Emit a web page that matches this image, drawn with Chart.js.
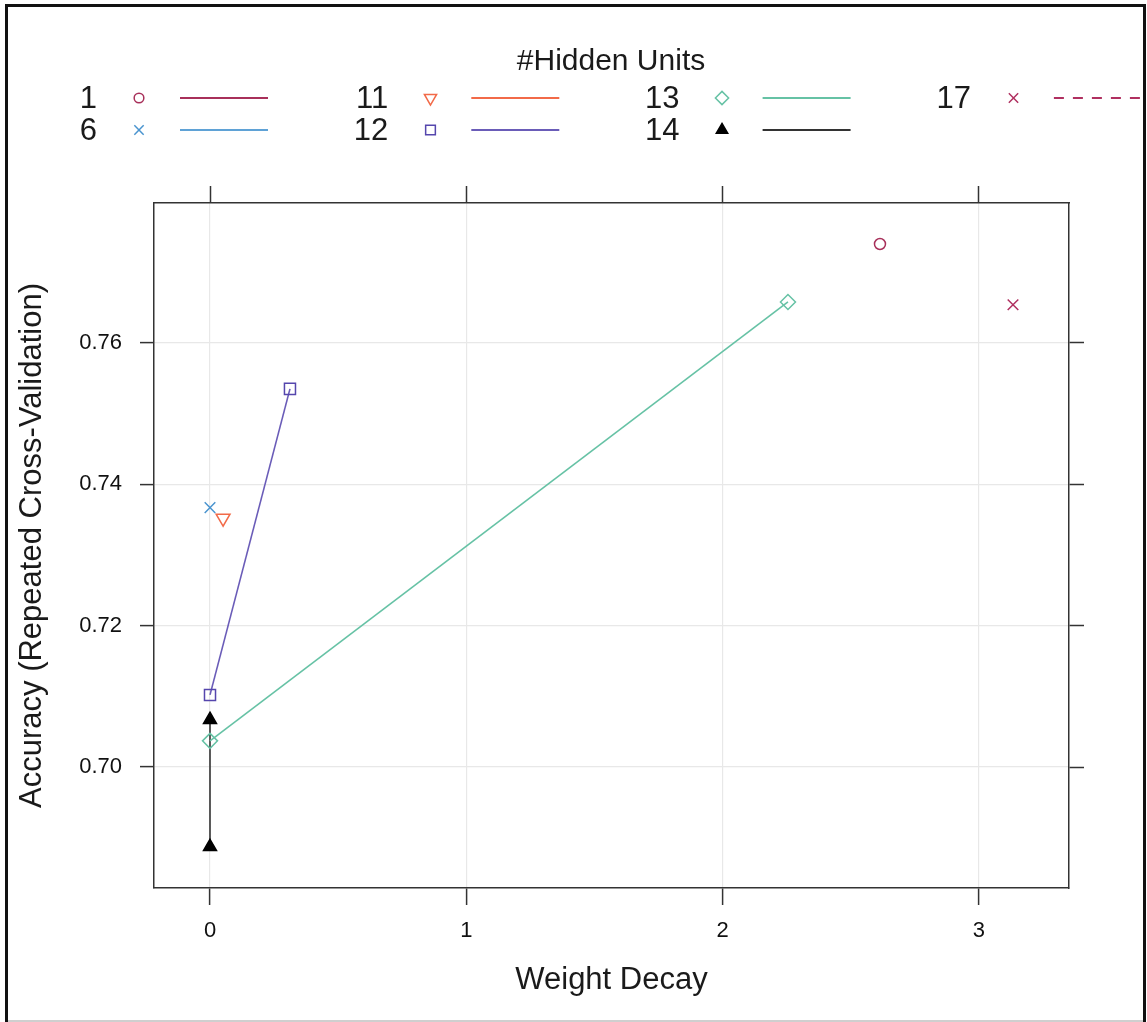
<!DOCTYPE html>
<html>
<head>
<meta charset="utf-8">
<script src="https://cdn.jsdelivr.net/npm/chart.js@4.4.1/dist/chart.umd.min.js"></script>
<style>
  html, body { margin: 0; padding: 0; background: #fff; }
  #wrap { width: 1147px; height: 1022px; }
</style>
</head>
<body>
<div id="wrap"><canvas id="nnetChart" width="1147" height="1022"></canvas></div>
<script>
// values
const hiddenUnits = ["1", "6", "11", "12", "13", "14", "17"];

const decay1 = [2.614];       const acc1 = [0.7740];
const decay6 = [0];           const acc6 = [0.7367];
const decay11 = [0.051];      const acc11 = [0.7352];
const decay12 = [0, 0.312];   const acc12 = [0.7102, 0.7535];
const decay13 = [0, 2.255];   const acc13 = [0.7037, 0.7658];
const decay14 = [0, 0];       const acc14 = [0.7067, 0.6887];
const decay17 = [3.133];      const acc17 = [0.7654];

const xTicks = [0, 1, 2, 3];
const yTicks = [0.70, 0.72, 0.74, 0.76];

const xRange = [-0.2185, 3.3515];
const yRange = [0.68288, 0.7798];

const FONT = "'Liberation Sans', Arial, Helvetica, sans-serif";

function pts(xs, ys) {
  return xs.map((x, i) => ({ x: x, y: ys[i] }));
}

// style per series (same order as hiddenUnits)
const markerColors = ["#a8305a", "#4a94cf", "#f26a48", "#5546ad", "#66c2a5", "#000000", "#b03060"];
const lineColors   = ["#a8305a", "#5fa2d6", "#f26a48", "#6a5cb8", "#66c2a5", "#333333", "#b03060"];
const markerStyles = ["circle", "crossRot", "triangle", "rect", "rectRot", "triangle", "crossRot"];
const markerRot    = [0, 0, 180, 0, 0, 0, 0];
const markerSize   = [5.5, 7.5, 8, 7.8, 7.5, 7.5, 7.5];
const markerFilled = [false, false, false, false, false, true, false];
const lineDash     = [[], [], [], [], [], [], [10, 9]];

const seriesData = [
  pts(decay1, acc1), pts(decay6, acc6), pts(decay11, acc11), pts(decay12, acc12),
  pts(decay13, acc13), pts(decay14, acc14), pts(decay17, acc17)
];

const datasets = hiddenUnits.map((u, i) => ({
  label: u,
  data: seriesData[i],
  showLine: true,
  borderColor: lineColors[i],
  borderWidth: 1.6,
  borderDash: lineDash[i],
  pointStyle: markerStyles[i],
  pointRotation: markerRot[i],
  pointRadius: markerSize[i],
  pointBorderWidth: 1.5,
  pointBorderColor: markerColors[i],
  pointBackgroundColor: markerFilled[i] ? markerColors[i] : "rgba(0,0,0,0)",
  fill: false,
  tension: 0,
  xAxisID: "x",
  yAxisID: "y"
}));

const framePlugin = {
  id: "frame",
  beforeDraw(chart) {
    const ctx = chart.ctx;
    ctx.save();
    ctx.fillStyle = "#fff";
    ctx.fillRect(0, 0, chart.width, chart.height);
    ctx.restore();
  },
  afterDraw(chart) {
    const ctx = chart.ctx;
    ctx.save();
    ctx.fillStyle = "#111";
    ctx.fillRect(5, 4, 3, 1018);      // left
    ctx.fillRect(5, 4, 1141, 3);      // top
    ctx.fillRect(1143, 4, 3, 1018);   // right
    ctx.fillStyle = "#cfcfcf";
    ctx.fillRect(8, 1020, 1135, 2);   // bottom
    ctx.restore();
  }
};

// lattice style key on top: 4 columns x 2 rows
const keyPlugin = {
  id: "latticeKey",
  afterDraw(chart) {
    const ctx = chart.ctx;
    ctx.save();
    ctx.fillStyle = "#1a1a1a";
    ctx.font = "30px " + FONT;
    ctx.textAlign = "center";
    ctx.textBaseline = "middle";
    ctx.fillText("#Hidden Units", 611, 62);

    ctx.font = "31px " + FONT;
    hiddenUnits.forEach((u, i) => {
      const col = Math.floor(i / 2);
      const row = i % 2;
      const y = row === 0 ? 98 : 130;
      const labelRight = 97 + col * 291.3;
      const mx = 139 + col * 291.5;
      const lx1 = 180 + col * 291.3;
      const lx2 = col === 3 ? 1147 : lx1 + 88;

      ctx.fillStyle = "#1a1a1a";
      ctx.textAlign = "right";
      ctx.fillText(u, labelRight, y + 1);

      ctx.strokeStyle = markerColors[i];
      ctx.fillStyle = markerFilled[i] ? markerColors[i] : "rgba(0,0,0,0)";
      ctx.lineWidth = 1.5;
      ctx.setLineDash([]);
      Chart.helpers.drawPoint(ctx, {
        pointStyle: markerStyles[i],
        rotation: markerRot[i],
        radius: markerSize[i] * 0.88,
        borderWidth: 1.5
      }, mx, y);

      ctx.beginPath();
      ctx.strokeStyle = lineColors[i];
      ctx.lineWidth = 2;
      ctx.setLineDash(lineDash[i]);
      ctx.moveTo(lx1, y);
      ctx.lineTo(lx2, y);
      ctx.stroke();
    });
    ctx.restore();
  }
};

const gridColor = "#e8e8e8";
const axisColor = "#333333";
const tickFont = { family: FONT, size: 22 };
const titleFont = { family: FONT, size: 31, lineHeight: 1.2 };

new Chart(document.getElementById("nnetChart").getContext("2d"), {
  type: "line",
  data: { datasets: datasets },
  plugins: [framePlugin, keyPlugin],
  options: {
    responsive: false,
    devicePixelRatio: 1,
    animation: false,
    layout: { padding: { top: 186, left: 0, right: 0, bottom: 0 } },
    plugins: { legend: { display: false }, tooltip: { enabled: false } },
    scales: {
      x: {
        type: "linear",
        position: "bottom",
        min: xRange[0],
        max: xRange[1],
        afterBuildTicks: s => { s.ticks = xTicks.map(v => ({ value: v })); },
        afterFit: s => { s.height = 134; },
        grid: { color: gridColor, lineWidth: 1.2, tickColor: axisColor, tickWidth: 1.5, tickLength: 17 },
        border: { color: axisColor, width: 1.5 },
        ticks: { font: tickFont, color: "#111", padding: 13, maxRotation: 0, callback: v => String(v) },
        title: { display: true, text: "Weight Decay", font: titleFont, color: "#1a1a1a", padding: { top: 0, bottom: 23 } }
      },
      x2: {
        type: "linear",
        position: "top",
        min: xRange[0],
        max: xRange[1],
        afterBuildTicks: s => { s.ticks = xTicks.map(v => ({ value: v })); },
        afterFit: s => { s.height = 17; },
        grid: { drawOnChartArea: false, tickColor: axisColor, tickWidth: 1.5, tickLength: 17 },
        border: { color: axisColor, width: 1.5 },
        ticks: { display: false }
      },
      y: {
        type: "linear",
        position: "left",
        min: yRange[0],
        max: yRange[1],
        afterBuildTicks: s => { s.ticks = yTicks.map(v => ({ value: v })); },
        afterFit: s => { s.width = 154; },
        grid: { color: gridColor, lineWidth: 1.2, tickColor: axisColor, tickWidth: 1.5, tickLength: 14 },
        border: { color: axisColor, width: 1.5 },
        ticks: { font: tickFont, color: "#111", padding: 18, callback: v => v.toFixed(2) },
        title: { display: true, text: "Accuracy (Repeated Cross-Validation)", font: titleFont, color: "#1a1a1a", padding: { top: 14, bottom: 0 } }
      },
      y2: {
        type: "linear",
        position: "right",
        min: yRange[0],
        max: yRange[1],
        afterBuildTicks: s => { s.ticks = yTicks.map(v => ({ value: v })); },
        afterFit: s => { s.width = 78; },
        grid: { drawOnChartArea: false, tickColor: axisColor, tickWidth: 1.5, tickLength: 15 },
        border: { color: axisColor, width: 1.5 },
        ticks: { display: false }
      }
    }
  }
});
</script>
</body>
</html>
